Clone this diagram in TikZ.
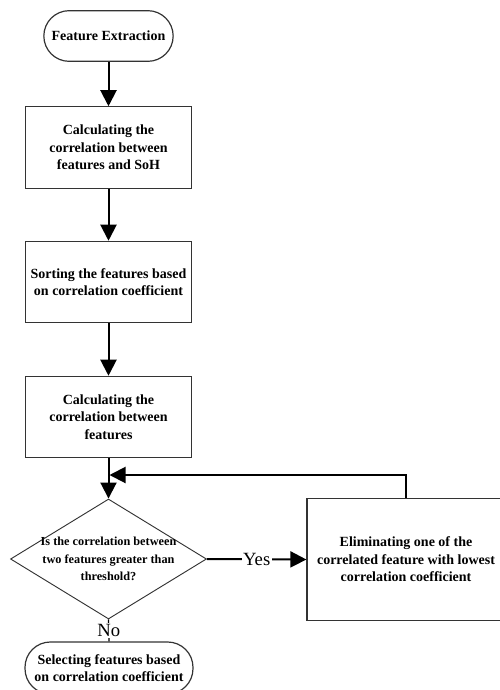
\documentclass[tikz,border=0pt]{standalone}
\usepackage{fontspec}
\setmainfont{Liberation Serif}
\usetikzlibrary{arrows.meta}
\usetikzlibrary{shapes.geometric}
\usetikzlibrary{positioning}
\tikzstyle{boxfont}=[font=\bfseries\fontsize{10.5}{13.2}\selectfont]
\tikzstyle{term}=[draw=black!80,line width=0.9pt,rectangle,rounded corners=19pt,align=center,boxfont,inner sep=2pt]
\tikzstyle{proc}=[draw=black!80,line width=0.9pt,rectangle,align=center,boxfont,minimum width=125pt,minimum height=61pt,inner sep=2pt]
\tikzstyle{decision}=[draw=black!80,line width=0.7pt,diamond,minimum width=147pt,minimum height=90pt,inner sep=0pt]
\tikzstyle{flow}=[draw,line width=1.5pt,black,-{Triangle[length=12pt,width=12pt]}]
\tikzstyle{answer}=[fill=white,inner sep=1pt,font=\fontsize{14}{16}\selectfont]

\begin{document}
\begin{tikzpicture}[x=0.75pt,y=-0.75pt]
	\useasboundingbox (0,0) rectangle (500,690);
	\node[term,minimum width=97pt,minimum height=38pt] (fe) at (108.5,36) {Feature Extraction};
	\node[proc] (csoh) at (108.5,147.5) {Calculating the\\correlation between\\features and SoH};
	\node[proc] (sort) at (108.5,282) {Sorting the features based\\on correlation coefficient};
	\node[proc] (cfeat) at (108.5,417) {Calculating the\\correlation between\\features};
	\node[decision] (thr) at (108.5,559) {};
	\node[align=center,inner sep=0pt,font=\bfseries\fontsize{9.2}{13}\selectfont] (thrtxt) at (thr.center) {Is the correlation between\\two features greater than\\threshold?};
	\node[proc,minimum width=148.5pt,minimum height=92pt] (elim) at (406,559.5) {Eliminating one of the\\correlated feature with lowest\\correlation coefficient};
	\node[term,minimum width=126pt,minimum height=39pt] (sel) at (109,668) {Selecting features based\\on correlation coefficient};
	\coordinate (join) at (109.5,475);
	
	\path[flow] (fe) -- (csoh);
	\path[flow] (csoh) -- (sort);
	\path[flow] (sort) -- (cfeat);
	\path[flow] (cfeat) -- (thr);
	
	\path[flow] (thr.east) -- node [answer] {Yes} (elim.west);
	\path[flow] (elim.north) |- (join);
	
	\draw[line width=1pt] (thr.south) -- node [answer] {No} (sel.north);

\end{tikzpicture}
\end{document}
